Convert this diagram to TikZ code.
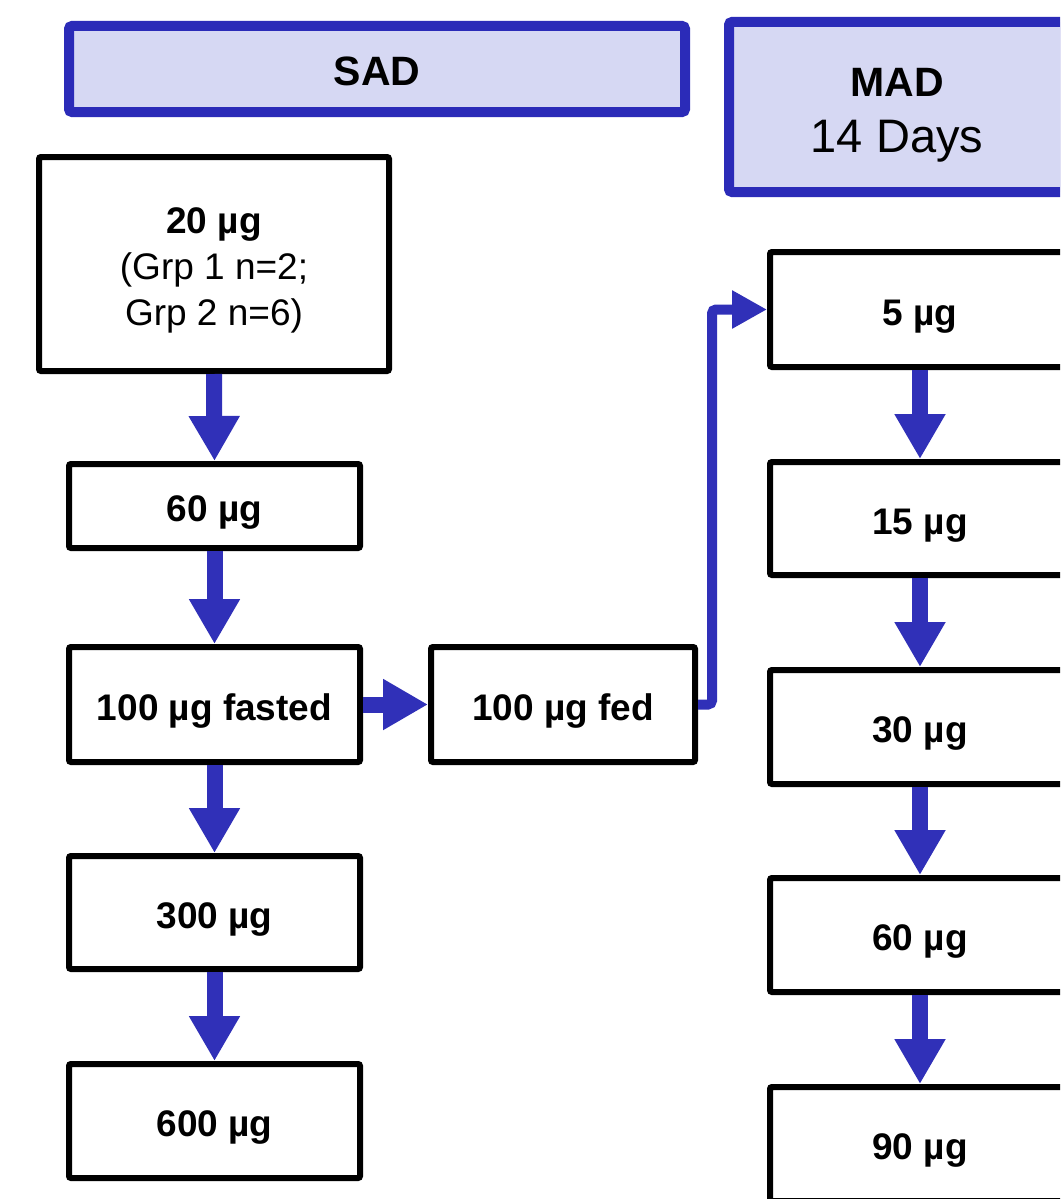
\documentclass[tikz,border=0pt]{standalone}
\usepackage{fontspec}
\setmainfont{Liberation Sans}
\usetikzlibrary{arrows.meta}
\definecolor{arrblue}{RGB}{48,48,184}
\definecolor{hdrblue}{RGB}{43,43,184}
\definecolor{hdrfill}{RGB}{214,216,243}
\tikzset{
  dosebox/.style={draw=black, line width=6pt, fill=white, rounded corners=2pt,
    inner sep=0pt, font=\bfseries\fontsize{37}{46}\selectfont},
  oneline/.style={text height=31pt, text depth=0pt},
  hdrbox/.style={draw=hdrblue, line width=10pt, fill=hdrfill, rounded corners=3pt,
    inner sep=0pt, font=\fontsize{41}{56}\selectfont},
  blockarrow/.style={draw=arrblue, line width=16pt, -{Triangle[width=48pt,length=45pt]}},
  thinarrow/.style={draw=arrblue, line width=10pt, rounded corners=4pt, -{Triangle[width=36pt,length=35pt]}}
}
\begin{document}
\begin{tikzpicture}[x=1pt,y=-1pt]
\useasboundingbox (0,0) rectangle (1060,1199);
\clip (0,0) rectangle (1060,1199);
\fill[white] (0,0) rectangle (1060,1199);
% headers
\node[hdrbox, text height=32pt, text depth=0pt, minimum width=616pt, minimum height=86pt] (sad) at (377,69) {\bfseries SAD};
\node[hdrbox, minimum width=336pt, minimum height=170pt] (mad) at (897,107)
  {\raisebox{-6pt}[\height][\depth]{\begin{tabular}{@{}c@{}}\bfseries MAD\\ \fontsize{47}{56}\selectfont 14 Days\end{tabular}}};
% SAD boxes
\node[dosebox, minimum width=350pt, minimum height=214pt] (b20) at (214,264)
  {\raisebox{-6pt}[\height][\depth]{\begin{tabular}{@{}c@{}}20 µg\\ \mdseries (Grp 1 n=2;\\ \mdseries Grp 2 n=6)\end{tabular}}};
\node[dosebox, oneline, minimum width=291pt, minimum height=84pt] (b60) at (214.5,506) {60 µg};
\node[dosebox, oneline, minimum width=291pt, minimum height=115pt] (bfast) at (214.5,704.5) {100 µg fasted};
\node[dosebox, oneline, minimum width=291pt, minimum height=113pt] (b300) at (214.5,912.5) {300 µg};
\node[dosebox, oneline, minimum width=291pt, minimum height=114pt] (b600) at (214.5,1121) {600 µg};
\node[dosebox, oneline, minimum width=264pt, minimum height=115pt] (bfed) at (563,704.5) {100 µg fed};
% MAD boxes
\node[dosebox, oneline, minimum width=300pt, minimum height=115pt] (m5) at (920,309.5) {5 µg};
\node[dosebox, oneline, minimum width=300pt, minimum height=113pt] (m15) at (920,518.5) {15 µg};
\node[dosebox, oneline, minimum width=300pt, minimum height=114pt] (m30) at (920,727) {30 µg};
\node[dosebox, oneline, minimum width=300pt, minimum height=114pt] (m60) at (920,935) {60 µg};
\node[dosebox, oneline, minimum width=300pt, minimum height=114pt] (m90) at (920,1144) {90 µg};
% arrows
\draw[blockarrow] (b20.south) -- (b60.north);
\draw[blockarrow] (b60.south) -- (bfast.north);
\draw[blockarrow] (bfast.south) -- (b300.north);
\draw[blockarrow] (b300.south) -- (b600.north);
\draw[blockarrow] (bfast.east) -- (bfed.west);
\draw[blockarrow] (m5.south) -- (m15.north);
\draw[blockarrow] (m15.south) -- (m30.north);
\draw[blockarrow] (m30.south) -- (m60.north);
\draw[blockarrow] (m60.south) -- (m90.north);
\draw[thinarrow] (bfed.east) -- ++(14,0) |- (m5.west);
\end{tikzpicture}
\end{document}
